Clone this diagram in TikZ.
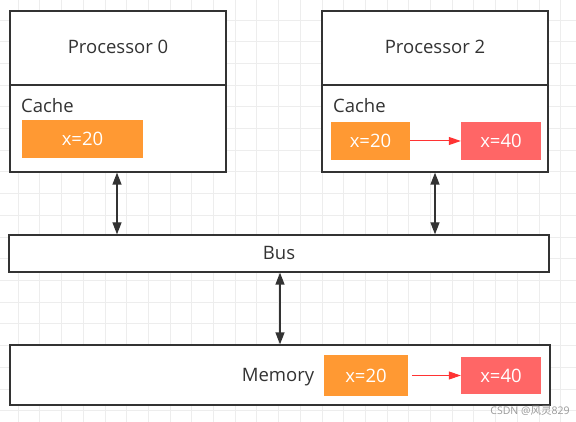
\documentclass[tikz,border=0pt]{standalone}
\usepackage{fontspec}
\setmainfont{Open Sans}
\newfontfamily\cjk{Noto Sans CJK SC}
\usetikzlibrary{arrows.meta}
\definecolor{orng}{HTML}{FF9933}
\definecolor{rd}{HTML}{FF6666}
\definecolor{txt}{HTML}{333333}
\definecolor{gridc}{HTML}{EDEDED}
\definecolor{redarrow}{HTML}{FF3333}
\tikzset{
  box/.style={draw=txt, line width=1.3pt, fill=white, inner sep=0pt},
  lbl/.style={text=txt, font=\fontsize{18.5}{22}\selectfont, inner sep=0pt},
  val/.style={inner sep=0pt, text=white, font=\fontsize{18.5}{22}\selectfont},
  orbox/.style={val, fill=orng},
  rdbox/.style={val, fill=rd},
  dbl/.style={draw=txt, line width=1.3pt, {Triangle[length=12pt,width=9pt]}-{Triangle[length=12pt,width=9pt]}},
  upd/.style={draw=redarrow, line width=1pt, -{Triangle[length=12pt,width=8pt]}},
  gridline/.style={draw=gridc, line width=0.8pt}
}
\begin{document}
\begin{tikzpicture}[x=1pt,y=-1pt]
\useasboundingbox (0,0) rectangle (576,422);
\fill[white] (0,0) rectangle (576,422);
% background grid
\foreach \i in {0,...,26} \draw[gridline] ({18.1+21.7*\i},0) -- ++(0,422);
\foreach \j in {0,...,19} \draw[gridline] (0,{20+21.7*\j}) -- ++(576,0);

% Processor 0
\node[box, minimum width=216pt, minimum height=161pt] (p0) at (118,91.5) {};
\draw[draw=txt, line width=1.3pt] (p0.west |- 0,85) -- (p0.east |- 0,85);
\node[lbl] (p0t) at (118,47) {Processor 0};
\node[lbl, anchor=west] (p0c) at (21,106) {Cache};
\node[orbox, minimum width=121pt, minimum height=38pt] (p0x) at (82.5,139) {x=20};

% Processor 2
\node[box, minimum width=226pt, minimum height=161pt] (p2) at (435,91.5) {};
\draw[draw=txt, line width=1.3pt] (p2.west |- 0,85) -- (p2.east |- 0,85);
\node[lbl] (p2t) at (435,47) {Processor 2};
\node[lbl, anchor=west] (p2c) at (333,106) {Cache};
\node[orbox, minimum width=79pt, minimum height=38pt] (p2x) at (370.5,141) {x=20};
\node[rdbox, minimum width=80pt, minimum height=38pt] (p2y) at (501,141) {x=40};
\draw[upd] (p2x.east) -- (p2y.west);

% Bus
\node[box, minimum width=540pt, minimum height=37pt] (bus) at (279,253.5) {};
\node[lbl] (bust) at (279,253) {Bus};

% Memory
\node[box, minimum width=540pt, minimum height=60pt] (mem) at (280,375) {};
\node[lbl] (memt) at (278,377) {Memory};
\node[orbox, minimum width=84pt, minimum height=41pt] (mx) at (366,375.5) {x=20};
\node[rdbox, minimum width=80pt, minimum height=37pt] (my) at (501,375.5) {x=40};
\path (mx.east) ++(4,0) coordinate (mxs);
\draw[upd] (mxs) -- (my.west);

% bus connections
\draw[dbl] (p0.south -| 117,0) -- (bus.north -| 117,0);
\draw[dbl] (p2.south) -- (p2.south |- bus.north);
\draw[dbl] (bus.south -| mem.north) -- (mem.north);

% watermark
\node[text=black!40, font=\fontsize{10.5}{12}\selectfont, inner sep=0pt] (wm) at (530,411) {CSDN @{\cjk 风灵}829};
\end{tikzpicture}
\end{document}
